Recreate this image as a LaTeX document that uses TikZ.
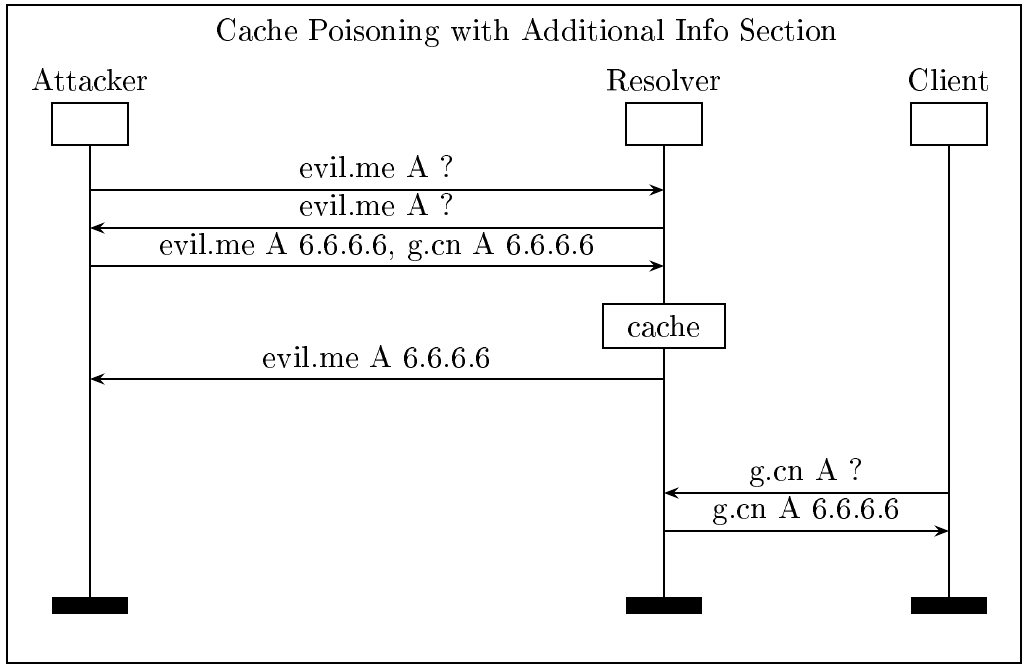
\documentclass[tikz,border=0pt]{standalone}
\usepackage[T1]{fontenc}
\usepackage{graphicx}
\renewcommand\rmdefault{lmdh}
\usetikzlibrary{arrows.meta}
% all labels are set slightly larger than the 10pt design size
\newcommand\lbl[1]{\scalebox{1.06}{#1}}
\begin{document}
\begin{tikzpicture}[x=0.34pt,y=-0.34pt,
  every node/.style={font=\rmfamily\fontsize{10}{12}\selectfont},
  frameline/.style={line width=0.7pt},
  instname/.style={anchor=base, inner sep=0pt},
  instbox/.style={draw, line width=0.7pt, minimum width=25.8pt, minimum height=14.3pt, inner sep=0pt, outer sep=0pt},
  endbar/.style={fill=black, minimum width=25.8pt, minimum height=5.8pt, inner sep=0pt, outer sep=0pt},
  lifeline/.style={line width=0.7pt},
  msg/.style={line width=0.7pt, -{Stealth[length=5pt, width=3.8pt, inset=1.8pt]}},
  msglabel/.style={anchor=base, inner sep=0pt},
  actionbox/.style={draw, fill=white, line width=0.7pt, minimum width=41.5pt, minimum height=15pt, inner sep=0pt, outer sep=0pt}]
  \useasboundingbox (0,0) rectangle (1026,666);

  % frame and title
  \draw[frameline] (7,5) rectangle (1021,663);
  \node[instname] (title) at (527,41) {\lbl{Cache Poisoning with Additional Info Section}};

  % instances
  \node[instname] (attname) at (90,91) {\lbl{Attacker}};
  \node[instname] (resname) at (664,91) {\lbl{Resolver}};
  \node[instname] (cliname) at (949,91) {\lbl{Client}};

  \node[instbox] (att) at (90,124) {};
  \node[instbox] (res) at (664,124) {};
  \node[instbox] (cli) at (949,124) {};

  \node[endbar] (attend) at (90,605.5) {};
  \node[endbar] (resend) at (664,605.5) {};
  \node[endbar] (cliend) at (949,605.5) {};

  % lifelines
  \draw[lifeline] (att.south) -- (attend.north);
  \draw[lifeline] (res.south) -- (resend.north);
  \draw[lifeline] (cli.south) -- (cliend.north);

  % message end points on the lifelines
  \coordinate (a1) at (90,190);  \coordinate (r1) at (664,190);
  \coordinate (a2) at (90,228);  \coordinate (r2) at (664,228);
  \coordinate (a3) at (90,266);  \coordinate (r3) at (664,266);
  \coordinate (a4) at (90,379);  \coordinate (r4) at (664,379);
  \coordinate (r5) at (664,493); \coordinate (c5) at (949,493);
  \coordinate (r6) at (664,531); \coordinate (c6) at (949,531);

  % messages
  \draw[msg] (a1) -- (r1);
  \node[msglabel] (m1) at (377,178) {\lbl{evil.me A ?}};
  \draw[msg] (r2) -- (a2);
  \node[msglabel] (m2) at (377,216) {\lbl{evil.me A ?}};
  \draw[msg] (a3) -- (r3);
  \node[msglabel] (m3) at (377,254) {\lbl{evil.me A 6.6.6.6, g.cn A 6.6.6.6}};

  % local action
  \node[actionbox] (cache) at (664,326) {\lbl{cache}};

  \draw[msg] (r4) -- (a4);
  \node[msglabel] (m4) at (377,367) {\lbl{evil.me A 6.6.6.6}};
  \draw[msg] (c5) -- (r5);
  \node[msglabel] (m5) at (806.5,480) {\lbl{g.cn A ?}};
  \draw[msg] (r6) -- (c6);
  \node[msglabel] (m6) at (806.5,518) {\lbl{g.cn A 6.6.6.6}};
\end{tikzpicture}
\end{document}
